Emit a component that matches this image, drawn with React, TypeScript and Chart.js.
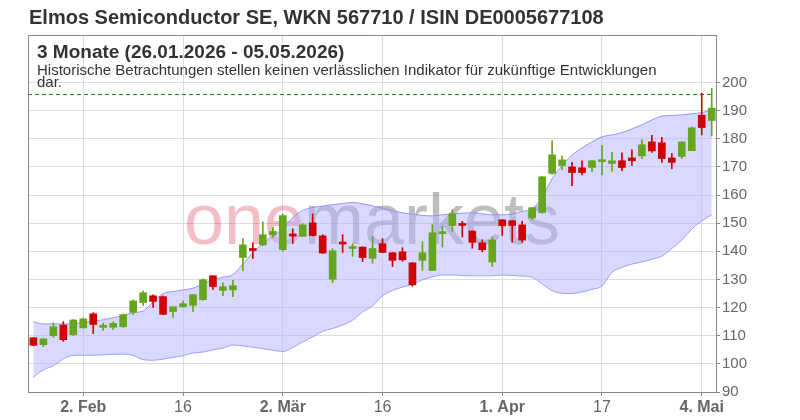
import React, { useEffect, useRef } from 'react';
import { Chart, registerables } from 'chart.js';

Chart.register(...registerables);

const FONT = "'Liberation Sans', Arial, sans-serif";

const title = 'Elmos Semiconductor SE, WKN 567710 / ISIN DE0005677108';
const rangeTitle = '3 Monate (26.01.2026 - 05.05.2026)';
const disclaimerLines = [
  'Historische Betrachtungen stellen keinen verlässlichen Indikator für zukünftige Entwicklungen',
  'dar.',
];
const watermarkParts = ['one', 'markets'];

const dates = [
  '2026-01-26', '2026-01-27', '2026-01-28', '2026-01-29', '2026-01-30',
  '2026-02-02', '2026-02-03', '2026-02-04', '2026-02-05', '2026-02-06',
  '2026-02-09', '2026-02-10', '2026-02-11', '2026-02-12', '2026-02-13',
  '2026-02-16', '2026-02-17', '2026-02-18', '2026-02-19', '2026-02-20',
  '2026-02-23', '2026-02-24', '2026-02-25', '2026-02-26', '2026-02-27',
  '2026-03-02', '2026-03-03', '2026-03-04', '2026-03-05', '2026-03-06',
  '2026-03-09', '2026-03-10', '2026-03-11', '2026-03-12', '2026-03-13',
  '2026-03-16', '2026-03-17', '2026-03-18', '2026-03-19', '2026-03-20',
  '2026-03-23', '2026-03-24', '2026-03-25', '2026-03-26', '2026-03-27',
  '2026-03-30', '2026-03-31', '2026-04-01', '2026-04-02', '2026-04-07',
  '2026-04-08', '2026-04-09', '2026-04-10', '2026-04-13', '2026-04-14',
  '2026-04-15', '2026-04-16', '2026-04-17', '2026-04-20', '2026-04-21',
  '2026-04-22', '2026-04-23', '2026-04-24', '2026-04-27', '2026-04-28',
  '2026-04-29', '2026-04-30', '2026-05-04', '2026-05-05',
];

const opens = [
  109.3, 106.8, 110.0, 113.8, 110.4, 112.8, 117.8, 113.0, 113.0, 113.2,
  118.3, 121.8, 124.2, 123.9, 118.6, 120.3, 120.8, 122.8, 131.3, 126.1,
  126.3, 137.8, 140.9, 142.3, 145.9, 140.6, 146.2, 145.3, 150.1, 145.5,
  130.1, 143.2, 141.0, 141.5, 137.5, 142.7, 139.5, 139.8, 135.9, 136.8,
  133.2, 146.3, 149.2, 149.7, 147.2, 143.0, 136.2, 151.2, 150.9, 149.4,
  151.9, 153.8, 167.7, 170.5, 170.0, 169.7, 169.8, 171.9, 171.2, 172.2,
  173.2, 173.9, 178.9, 178.6, 173.2, 173.7, 175.8, 188.4, 186.5,
];
const highs = [
  109.4, 108.9, 114.6, 115.0, 115.8, 116.3, 118.2, 114.5, 115.0, 117.7,
  122.8, 126.0, 124.5, 124.2, 120.3, 122.3, 124.6, 130.2, 131.4, 128.8,
  129.7, 144.5, 143.0, 150.5, 148.5, 153.3, 148.0, 149.9, 153.3, 145.9,
  140.9, 145.9, 142.7, 141.6, 145.2, 144.5, 139.6, 141.3, 136.0, 143.4,
  149.5, 148.8, 154.8, 150.7, 147.3, 144.1, 145.2, 151.3, 151.0, 150.7,
  155.5, 166.6, 179.3, 173.9, 171.6, 172.2, 172.2, 177.6, 175.2, 175.0,
  176.1, 179.6, 181.2, 180.5, 174.8, 178.9, 184.2, 196.2, 198.0,
];
const lows = [
  106.4, 106.2, 109.4, 108.0, 110.1, 112.7, 110.8, 111.9, 112.2, 113.0,
  117.6, 120.8, 120.1, 117.6, 116.5, 120.2, 118.6, 122.6, 126.5, 124.2,
  123.9, 133.1, 137.5, 142.0, 144.9, 140.1, 142.8, 145.2, 145.5, 139.3,
  128.9, 139.6, 138.2, 136.4, 135.8, 139.5, 134.6, 136.5, 127.6, 133.2,
  133.2, 141.5, 147.1, 145.1, 141.1, 139.8, 134.6, 145.6, 143.2, 143.2,
  151.3, 153.6, 167.3, 169.0, 163.3, 167.2, 168.3, 167.2, 168.4, 168.7,
  170.5, 172.9, 175.2, 171.6, 169.3, 173.0, 175.8, 181.4, 181.0,
];
const closes = [
  106.6, 108.9, 113.2, 108.6, 115.6, 116.0, 114.0, 113.3, 114.4, 117.5,
  122.4, 125.3, 122.2, 117.6, 120.3, 121.4, 124.6, 129.9, 127.5, 127.4,
  127.8, 142.3, 140.3, 145.9, 147.1, 152.7, 145.4, 149.4, 145.6, 139.4,
  140.2, 142.6, 141.7, 137.8, 141.0, 139.6, 136.8, 137.0, 128.1, 139.5,
  146.6, 146.9, 153.3, 149.2, 143.2, 140.6, 144.0, 149.1, 149.2, 144.0,
  155.5, 166.5, 174.3, 172.5, 168.0, 168.0, 172.2, 172.5, 172.2, 169.8,
  172.2, 177.9, 175.7, 173.0, 171.6, 178.9, 183.9, 184.0, 190.9,
];

const upperBand = [
  114.9, 114.2, 114.2, 114.2, 114.3, 114.7, 115.2, 115.7, 116.4, 117.2,
  118.2, 118.8, 122.0, 125.0, 125.7, 126.3, 126.9, 128.5, 129.9, 130.8,
  131.7, 135.5, 139.5, 142.7, 145.5, 148.0, 152.0, 154.5, 155.6, 156.1,
  156.6, 157.0, 157.4, 156.9, 156.2, 155.3, 154.4, 153.7, 153.2, 152.8,
  152.6, 153.0, 153.3, 153.6, 153.7, 153.3, 153.0, 153.0, 153.3, 154.2,
  155.0, 159.3, 165.8, 170.5, 174.2, 176.8, 178.9, 180.7, 181.4, 182.2,
  183.5, 185.0, 186.7, 188.1, 188.3, 188.5, 188.9, 189.3, 190.3,
];
const lowerBand = [
  95.2, 97.9, 99.3, 101.8, 103.0, 103.1, 103.1, 103.2, 103.4, 103.5,
  103.0, 101.5, 101.3, 101.7, 102.3, 102.9, 103.9, 104.2, 105.0, 105.6,
  106.7, 106.4, 105.9, 105.4, 104.9, 104.4, 105.8, 107.8, 109.6, 111.6,
  112.6, 113.8, 115.5, 118.5, 120.6, 124.2, 126.1, 127.3, 128.3, 129.9,
  130.9, 131.6, 131.6, 131.4, 131.3, 131.3, 131.3, 131.6, 131.4, 131.2,
  130.8, 128.4, 126.0, 125.1, 125.0, 125.6, 126.5, 127.7, 132.5, 134.3,
  135.5, 136.2, 137.2, 138.3, 141.0, 144.0, 147.9, 150.8, 153.0,
];

const periodHigh = 196.1;

const xTickDates = ['2026-02-02', '2026-02-16', '2026-03-02', '2026-03-16', '2026-04-01', '2026-04-17', '2026-05-04'];
const xTickLabels = ['2. Feb', '16', '2. Mär', '16', '1. Apr', '17', '4. Mai'];
const xTickBold = [true, false, true, false, true, false, true];
const yTicks = [90, 100, 110, 120, 130, 140, 150, 160, 170, 180, 190, 200];

const xMin = -0.54;
const xMax = 68.43;
const yMin = 90;
const yMax = 216.9;

const GREEN = '#66a61e';
const RED = '#d00000';

export default function App() {
  const canvasRef = useRef<HTMLCanvasElement | null>(null);

  useEffect(() => {
    const canvas = canvasRef.current;
    if (!canvas) return;

    const tickIdx = xTickDates.map((d) => dates.indexOf(d));
    const candleColors = opens.map((o, i) => (closes[i] >= o ? GREEN : RED));

    const decorPlugin = {
      id: 'decor',
      beforeDatasetsDraw(chart: any) {
        const { ctx, chartArea, scales } = chart;
        ctx.save();
        ctx.strokeStyle = '#888';
        ctx.lineWidth = 1;
        ctx.beginPath();
        ctx.moveTo(chartArea.left + 0.5, chartArea.bottom);
        ctx.lineTo(chartArea.left + 0.5, chartArea.top + 0.5);
        ctx.lineTo(chartArea.right, chartArea.top + 0.5);
        ctx.stroke();

        ctx.font = `72px ${FONT}`;
        ctx.textBaseline = 'alphabetic';
        ctx.textAlign = 'left';
        const w0 = ctx.measureText(watermarkParts[0]).width;
        const w1 = ctx.measureText(watermarkParts[1]).width;
        const cx = (chartArea.left + chartArea.right) / 2;
        const base = (chartArea.top + chartArea.bottom) / 2 + 30;
        let x = cx - (w0 + w1) / 2;
        ctx.fillStyle = 'rgba(220, 40, 70, 0.3)';
        ctx.fillText(watermarkParts[0], x, base);
        x += w0;
        ctx.fillStyle = 'rgba(100, 100, 100, 0.42)';
        ctx.fillText(watermarkParts[1], x, base);

        const y = Math.round(scales.y.getPixelForValue(periodHigh)) + 0.5;
        const xEnd = scales.x.getPixelForValue(dates.length - 1);
        ctx.strokeStyle = '#1f8a1f';
        ctx.setLineDash([4, 3]);
        ctx.beginPath();
        ctx.moveTo(chartArea.left, y);
        ctx.lineTo(xEnd, y);
        ctx.stroke();
        ctx.restore();
      },
      afterDraw(chart: any) {
        const { ctx } = chart;
        ctx.save();
        ctx.fillStyle = '#333';
        ctx.textAlign = 'left';
        ctx.textBaseline = 'alphabetic';
        ctx.font = `bold 20px ${FONT}`;
        ctx.fillText(title, 29, 24);
        ctx.font = `bold 19px ${FONT}`;
        ctx.fillText(rangeTitle, 37, 58);
        ctx.font = `15px ${FONT}`;
        disclaimerLines.forEach((line, i) => ctx.fillText(line, 37, 75 + i * 12));
        ctx.restore();
      },
    };

    const chart = new Chart(canvas, {
      type: 'bar',
      data: {
        datasets: [
          {
            type: 'bar',
            label: 'body',
            data: dates.map((_, i) => ({ x: i, y: [opens[i], closes[i]] })) as any,
            backgroundColor: candleColors,
            borderWidth: 0,
            barThickness: 7,
            minBarLength: 2,
            grouped: false,
            order: 1,
          } as any,
          {
            type: 'bar',
            label: 'wick',
            data: dates.map((_, i) => ({ x: i, y: [lows[i], highs[i]] })) as any,
            backgroundColor: candleColors,
            borderWidth: 0,
            barThickness: 1,
            grouped: false,
            order: 2,
          } as any,
          {
            type: 'line',
            label: 'upper',
            data: upperBand.map((v, i) => ({ x: i, y: v })),
            borderColor: 'rgba(140, 140, 255, 0.9)',
            borderWidth: 1,
            backgroundColor: 'rgba(180, 180, 255, 0.5)',
            pointRadius: 0,
            fill: '+1',
            cubicInterpolationMode: 'monotone',
            order: 3,
          } as any,
          {
            type: 'line',
            label: 'lower',
            data: lowerBand.map((v, i) => ({ x: i, y: v })),
            borderColor: 'rgba(140, 140, 255, 0.9)',
            borderWidth: 1,
            pointRadius: 0,
            fill: false,
            cubicInterpolationMode: 'monotone',
            order: 4,
          } as any,
        ],
      },
      options: {
        responsive: false,
        devicePixelRatio: 1,
        animation: false,
        layout: { padding: { left: 28, top: 35, right: 0, bottom: 0 } },
        plugins: {
          legend: { display: false },
          tooltip: { enabled: false },
          title: { display: false },
        },
        scales: {
          x: {
            type: 'linear',
            offset: false,
            min: xMin,
            max: xMax,
            afterBuildTicks: (s: any) => {
              s.ticks = tickIdx.map((v) => ({ value: v }));
            },
            afterFit: (s: any) => {
              s.height = 28;
            },
            ticks: {
              autoSkip: false,
              maxRotation: 0,
              padding: 2,
              color: '#666',
              callback: (v: any) => {
                const k = tickIdx.indexOf(Number(v));
                return k >= 0 ? xTickLabels[k] : '';
              },
              font: (c: any) => ({
                family: FONT,
                size: 16,
                weight: xTickBold[c.index] ? 'bold' : 'normal',
              }),
            },
            grid: { offset: false, color: '#dcdcdc', tickLength: 4, tickColor: '#888' },
            border: { color: '#888' },
          },
          y: {
            type: 'linear',
            position: 'right',
            min: yMin,
            max: yMax,
            afterBuildTicks: (s: any) => {
              s.ticks = yTicks.map((v) => ({ value: v }));
            },
            afterFit: (s: any) => {
              s.width = 84;
            },
            ticks: {
              padding: 2,
              color: '#666',
              font: { family: FONT, size: 15 },
              callback: (v: any) => String(v),
            },
            grid: { color: '#dcdcdc', tickLength: 4, tickColor: '#888' },
            border: { color: '#888' },
          },
        },
      } as any,
      plugins: [decorPlugin],
    });

    return () => chart.destroy();
  }, []);

  return (
    <div style={{ position: 'absolute', left: 0, top: 0, width: 800, height: 420, background: '#fff' }}>
      <canvas ref={canvasRef} width={800} height={420} />
    </div>
  );
}
